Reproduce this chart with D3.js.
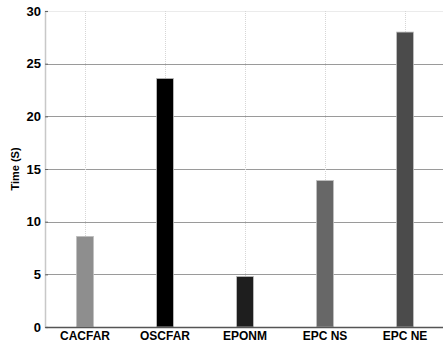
<!DOCTYPE html>
<html>
<head>
<meta charset="utf-8">
<script src="https://cdn.jsdelivr.net/npm/d3@7/dist/d3.min.js"></script>
<style>
  html, body { margin: 0; padding: 0; background: #fff; }
  svg { display: block; }
  text { font-family: "Liberation Sans", Arial, sans-serif; font-weight: bold; fill: #000; }
</style>
</head>
<body>
<script>
// Detector run times
const methods = ["CACFAR", "OSCFAR", "EPONM", "EPC NS", "EPC NE"];
const times = [8.6, 23.6, 4.8, 13.9, 28.0];
const barColors = ["#8e8e8e", "#000000", "#1e1e1e", "#676767", "#4b4b4b"];
const yTicks = [0, 5, 10, 15, 20, 25, 30];

const W = 443, H = 342;
const margin = { top: 11, right: -2, bottom: 15, left: 45 };
const innerW = W - margin.left - margin.right;
const innerH = H - margin.top - margin.bottom;

const svg = d3.select("body").append("svg").attr("width", W).attr("height", H);
const g = svg.append("g").attr("transform", `translate(${margin.left},${margin.top})`);

const x = d3.scaleBand().domain(methods).range([0, innerW]).paddingInner(0.79).paddingOuter(0.395);
const y = d3.scaleLinear().domain([0, 30]).range([innerH, 0]);

// top frame line
g.append("line").attr("x1", 0).attr("x2", innerW).attr("y1", 0.5).attr("y2", 0.5)
  .attr("stroke", "#ebebeb").attr("stroke-width", 1);

// horizontal grid
g.append("g").selectAll("line").data(yTicks.filter(t => t > 0 && t < 30)).join("line")
  .attr("x1", 0).attr("x2", innerW)
  .attr("y1", d => Math.round(y(d)) + 0.5).attr("y2", d => Math.round(y(d)) + 0.5)
  .attr("stroke", "#9a9a9a").attr("stroke-width", 1);

// vertical dotted grid at category centers
g.append("g").selectAll("line").data(methods).join("line")
  .attr("x1", d => Math.round(x(d) + x.bandwidth() / 2) + 0.5)
  .attr("x2", d => Math.round(x(d) + x.bandwidth() / 2) + 0.5)
  .attr("y1", 0).attr("y2", innerH)
  .attr("stroke", "#d6d6d6").attr("stroke-width", 1).attr("stroke-dasharray", "1,1");

// bars
g.append("g").selectAll("rect").data(methods).join("rect")
  .attr("x", d => x(d))
  .attr("y", (d, i) => y(times[i]))
  .attr("width", x.bandwidth())
  .attr("height", (d, i) => innerH - y(times[i]))
  .attr("fill", (d, i) => barColors[i])
  .attr("stroke", "#bdbdbd").attr("stroke-width", 0.8);

// y axis
const yAxis = g.append("g").call(d3.axisLeft(y).tickValues(yTicks).tickSize(-3).tickPadding(4));
yAxis.select(".domain").attr("stroke", "#c8c8c8").attr("stroke-width", 1.5);
yAxis.selectAll(".tick line").attr("stroke", "#666");
yAxis.selectAll("text").style("font-size", "13px").style("font-family", "'Liberation Sans', Arial, sans-serif").style("font-weight", "bold");

// x axis
const xAxis = g.append("g").attr("transform", `translate(0,${innerH})`)
  .call(d3.axisBottom(x).tickSize(0).tickPadding(4));
xAxis.select(".domain").attr("stroke", "#555").attr("stroke-width", 1.5);
xAxis.selectAll("text").style("font-size", "12px").style("font-family", "'Liberation Sans', Arial, sans-serif").style("font-weight", "bold");

// y axis title
svg.append("text")
  .attr("transform", `translate(19,${margin.top + innerH / 2}) rotate(-90)`)
  .attr("text-anchor", "middle")
  .style("font-size", "11px")
  .text("Time (S)");
</script>
</body>
</html>
